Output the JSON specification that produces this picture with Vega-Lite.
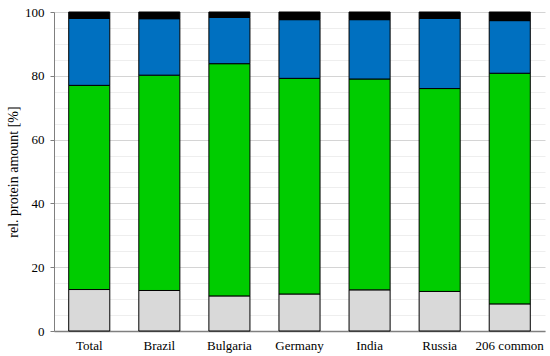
{
  "$schema": "https://vega.github.io/schema/vega-lite/v6.json",
  "width": 491,
  "height": 319,
  "autosize": {"type": "none"},
  "padding": {"left": 54, "top": 12, "right": 5, "bottom": 25},
  "background": "white",
  "config": {
    "view": {"stroke": null},
    "font": "Liberation Serif"
  },
  "data": {
    "values": [
      {"sample": "Total", "group": "A", "k": 1, "value": 13.0},
      {"sample": "Total", "group": "B", "k": 2, "value": 64.0},
      {"sample": "Total", "group": "C", "k": 3, "value": 21.0},
      {"sample": "Total", "group": "D", "k": 4, "value": 2.0},
      {"sample": "Brazil", "group": "A", "k": 1, "value": 12.7},
      {"sample": "Brazil", "group": "B", "k": 2, "value": 67.5},
      {"sample": "Brazil", "group": "C", "k": 3, "value": 17.7},
      {"sample": "Brazil", "group": "D", "k": 4, "value": 2.1},
      {"sample": "Bulgaria", "group": "A", "k": 1, "value": 11.0},
      {"sample": "Bulgaria", "group": "B", "k": 2, "value": 72.8},
      {"sample": "Bulgaria", "group": "C", "k": 3, "value": 14.5},
      {"sample": "Bulgaria", "group": "D", "k": 4, "value": 1.7},
      {"sample": "Germany", "group": "A", "k": 1, "value": 11.6},
      {"sample": "Germany", "group": "B", "k": 2, "value": 67.6},
      {"sample": "Germany", "group": "C", "k": 3, "value": 18.4},
      {"sample": "Germany", "group": "D", "k": 4, "value": 2.4},
      {"sample": "India", "group": "A", "k": 1, "value": 12.9},
      {"sample": "India", "group": "B", "k": 2, "value": 66.1},
      {"sample": "India", "group": "C", "k": 3, "value": 18.6},
      {"sample": "India", "group": "D", "k": 4, "value": 2.4},
      {"sample": "Russia", "group": "A", "k": 1, "value": 12.4},
      {"sample": "Russia", "group": "B", "k": 2, "value": 63.6},
      {"sample": "Russia", "group": "C", "k": 3, "value": 22.0},
      {"sample": "Russia", "group": "D", "k": 4, "value": 2.0},
      {"sample": "206 common", "group": "A", "k": 1, "value": 8.5},
      {"sample": "206 common", "group": "B", "k": 2, "value": 72.3},
      {"sample": "206 common", "group": "C", "k": 3, "value": 16.5},
      {"sample": "206 common", "group": "D", "k": 4, "value": 2.7}
    ]
  },
  "mark": {"type": "bar", "stroke": "#000000", "strokeWidth": 1},
  "encoding": {
    "x": {
      "field": "sample",
      "type": "nominal",
      "sort": null,
      "scale": {"paddingInner": 0.414, "paddingOuter": 0.21},
      "axis": {
        "title": null,
        "grid": false,
        "labelAngle": 0,
        "labelFontSize": 13,
        "labelColor": "#000000",
        "labelPadding": 8,
        "ticks": false,
        "domainColor": "#7f7f7f",
        "domainWidth": 1.5
      }
    },
    "y": {
      "field": "value",
      "type": "quantitative",
      "stack": "zero",
      "scale": {"domain": [0, 100], "nice": false},
      "axis": {
        "title": "rel. protein amount [%]",
        "titleFontSize": 14,
        "titleFontWeight": "normal",
        "titleColor": "#000000",
        "titlePadding": 4,
        "values": [0, 5, 10, 15, 20, 25, 30, 35, 40, 45, 50, 55, 60, 65, 70, 75, 80, 85, 90, 95, 100],
        "labelExpr": "datum.value % 20 == 0 ? datum.label : ''",
        "labelFontSize": 13,
        "labelColor": "#000000",
        "labelPadding": 6,
        "tickSize": 4,
        "tickColor": "#7f7f7f",
        "tickOpacity": {"condition": {"test": "datum.value % 20 == 0", "value": 1}, "value": 0},
        "domainColor": "#7f7f7f",
        "grid": true,
        "gridColor": {"condition": {"test": "datum.value % 20 == 0", "value": "#d4d4d4"}, "value": "#eeeeee"},
        "gridWidth": 1
      }
    },
    "color": {
      "field": "group",
      "type": "nominal",
      "scale": {"domain": ["A", "B", "C", "D"], "range": ["#d9d9d9", "#00cc00", "#0070c0", "#000000"]},
      "legend": null
    },
    "order": {"field": "k", "type": "quantitative", "sort": "ascending"}
  }
}
